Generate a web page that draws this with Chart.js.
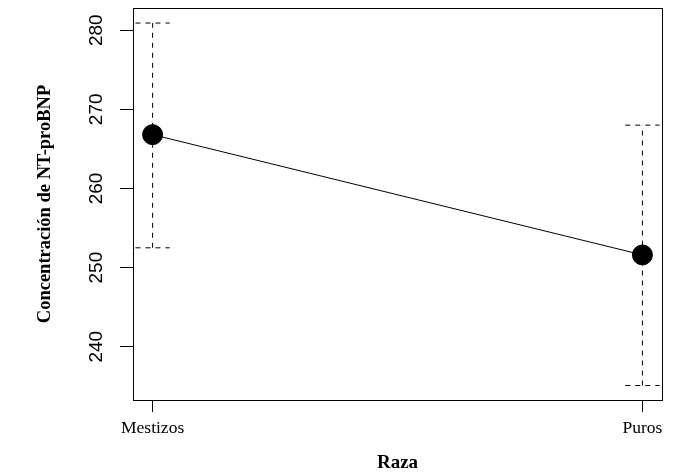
<!DOCTYPE html>
<html>
<head>
<meta charset="utf-8">
<script src="https://cdn.jsdelivr.net/npm/chart.js@4"></script>
<style>
  html, body { margin: 0; padding: 0; background: #fff; }
  #wrap { width: 700px; height: 472px; position: relative; }
</style>
</head>
<body>
<div id="wrap"><canvas id="chart"></canvas></div>
<script>
// Data
const categories = ['Mestizos', 'Puros'];
const means = [266.8, 251.6];
const upper = [280.9, 268.0];
const lower = [252.5, 235.1];
const yTicks = [240, 250, 260, 270, 280];

const capHalf = 0.035;
const dash = [5, 5];

// box around the plot region, like R's box()
const boxPlugin = {
    id: 'box',
    afterDraw(chart) {
        const { ctx, chartArea: a } = chart;
        ctx.save();
        ctx.strokeStyle = '#000';
        ctx.lineWidth = 1;
        ctx.strokeRect(Math.round(a.left) + 0.5, Math.round(a.top) + 0.5,
            Math.round(a.right - a.left), Math.round(a.bottom - a.top));
        ctx.restore();
    }
};

function seg(x1, y1, x2, y2, style) {
    return Object.assign({
        data: [{ x: x1, y: y1 }, { x: x2, y: y2 }],
        showLine: true,
        borderColor: '#000',
        borderWidth: 1,
        pointRadius: 0,
        clip: false,
        order: 2
    }, style);
}

const datasets = [{
    data: categories.map((c, i) => ({ x: i + 1, y: means[i] })),
    showLine: true,
    borderColor: '#000',
    borderWidth: 1,
    pointRadius: 10,
    pointBackgroundColor: '#000',
    pointBorderColor: '#000',
    clip: false,
    order: 1
}];

categories.forEach((c, i) => {
    const x = i + 1;
    datasets.push(seg(x, lower[i], x, upper[i], { borderDash: dash }));
    datasets.push(seg(x - capHalf, upper[i], x + capHalf, upper[i], { borderDash: dash }));
    datasets.push(seg(x - capHalf, lower[i], x + capHalf, lower[i], { borderDash: dash }));
});

new Chart(document.getElementById('chart'), {
    type: 'scatter',
    data: { datasets },
    plugins: [boxPlugin],
    options: {
        responsive: true,
        maintainAspectRatio: false,
        animation: false,
        devicePixelRatio: 1,
        layout: { autoPadding: false, padding: { left: 0, right: 38, top: 8, bottom: 0 } },
        plugins: { legend: { display: false }, tooltip: { enabled: false } },
        scales: {
            x: {
                type: 'linear',
                min: 0.96,
                max: 2.04,
                afterBuildTicks: s => { s.ticks = categories.map((c, i) => ({ value: i + 1 })); },
                afterFit: s => { s.height = 72; s.paddingLeft = 0; s.paddingRight = 0; },
                ticks: {
                    autoSkip: false,
                    maxRotation: 0,
                    padding: 6,
                    color: '#000',
                    font: { family: 'Liberation Serif', size: 17.5 },
                    callback: v => categories[v - 1]
                },
                grid: { drawOnChartArea: false, drawTicks: true, tickLength: 12, tickColor: '#000', tickWidth: 1 },
                border: { display: false },
                title: {
                    display: true,
                    text: 'Raza',
                    color: '#000',
                    font: { family: 'Liberation Serif', size: 19, weight: 'bold' },
                    padding: { top: 0, bottom: -2 }
                }
            },
            y: {
                min: 233.27,
                max: 282.8,
                afterBuildTicks: s => { s.ticks = yTicks.map(v => ({ value: v })); },
                afterFit: s => { s.width = 133; s.paddingTop = 0; s.paddingBottom = 0; },
                ticks: {
                    minRotation: 90,
                    maxRotation: 90,
                    crossAlign: 'center',
                    padding: 7,
                    color: '#000',
                    font: { family: 'Liberation Sans', size: 19 }
                },
                grid: { drawOnChartArea: false, drawTicks: true, tickLength: 13, tickColor: '#000', tickWidth: 1 },
                border: { display: false },
                title: {
                    display: true,
                    text: 'Concentración de NT-proBNP',
                    color: '#000',
                    font: { family: 'Liberation Serif', size: 18.5, weight: 'bold' },
                    padding: { top: 34, bottom: 0 }
                }
            }
        }
    }
});
</script>
</body>
</html>
